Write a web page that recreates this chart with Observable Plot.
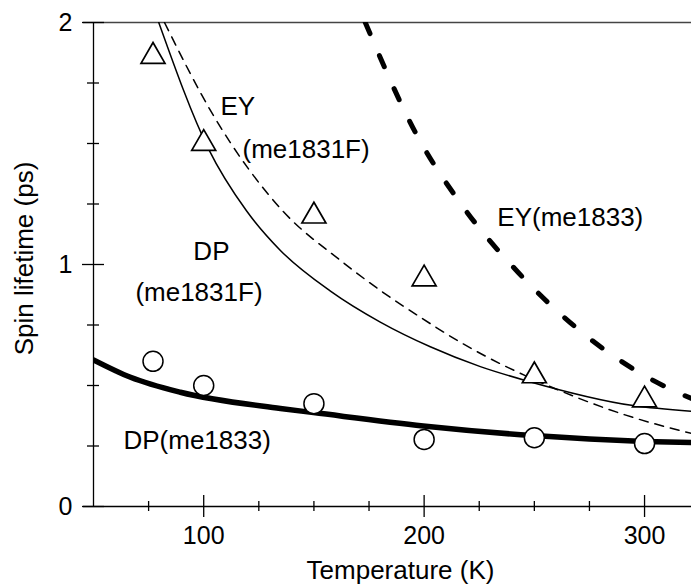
<!DOCTYPE html>
<html><head><meta charset="utf-8">
<script src="https://cdn.jsdelivr.net/npm/d3@7"></script>
<script src="https://cdn.jsdelivr.net/npm/@observablehq/plot@0.6"></script>
<style>body{margin:0;background:#fff}</style>
</head><body><div id="chart"></div>
<script>
// Measured points
const dataT = [77, 100, 150, 200, 250, 300];
const eyMe1831F = [1.86, 1.50, 1.20, 0.94, 0.54, 0.44];   // triangles
const dpMe1833 = [0.60, 0.50, 0.425, 0.277, 0.284, 0.26]; // circles

// Theory curves
const dp1833T = [50, 66.8, 89.4, 134.8, 149.8, 199.6, 249.5, 299.8, 321.3];
const dp1833V = [0.606, 0.534, 0.472, 0.405, 0.388, 0.333, 0.293, 0.269, 0.264];
const dp1831T = [79.6, 102.1, 119.4, 134.8, 157.5, 180.1, 202.8, 225.5, 245.9, 294.8, 321.3];
const dp1831V = [2.0, 1.479, 1.222, 1.058, 0.89, 0.762, 0.66, 0.578, 0.521, 0.417, 0.393];
const ey1831T = [82.2, 104.4, 136.1, 162.0, 180.1, 198.3, 216.4, 234.5, 245.9, 294.8, 321.3];
const ey1831V = [2.0, 1.616, 1.219, 1.017, 0.893, 0.782, 0.679, 0.590, 0.541, 0.368, 0.302];
const ey1833T = [173.3, 196.8, 217.2, 242.7, 272.2, 303.9, 321.3];
const ey1833V = [2.0, 1.533, 1.244, 0.967, 0.715, 0.521, 0.446];

// Labels
const labelText = ["EY", "(me1831F)", "DP", "(me1831F)", "EY(me1833)", "DP(me1833)"];
const labelT = [107.6, 117.6, 95.3, 69.0, 233.2, 63.6];
const labelV = [1.653, 1.475, 1.054, 0.884, 1.194, 0.273];

// Ticks
const xMajor = [100, 200, 300];
const xMinor = [75, 125, 150, 175, 225, 250, 275];
const yMajor = [0, 1, 2];
const yMinor = [0.25, 0.5, 0.75, 1.25, 1.5, 1.75];

const rows = (T, V) => T.map((t, i) => ({t, v: V[i]}));
const font = "'Liberation Sans', Arial, Helvetica, sans-serif";

const chart = Plot.plot({
  width: 691, height: 585,
  marginLeft: 93, marginRight: 0, marginTop: 22, marginBottom: 79,
  style: {fontFamily: font, background: "#fff", color: "#000"},
  x: {domain: [50, 321.3]},
  y: {domain: [0, 2]},
  marks: [
    Plot.ruleY([2], {insetLeft: -10, stroke: "#444", strokeWidth: 1.5}),
    Plot.ruleY([0], {insetLeft: -10, stroke: "#000", strokeWidth: 1.3}),
    Plot.ruleX([50], {stroke: "#000", strokeWidth: 1.3}),
    Plot.ruleY(yMajor, {y: d => d, x1: 50, x2: 50, insetLeft: -11, insetRight: -11, stroke: "#000", strokeWidth: 1.3}),
    Plot.ruleY(yMinor, {y: d => d, x1: 50, x2: 50, insetLeft: -6, insetRight: -6, stroke: "#000", strokeWidth: 1.3}),
    Plot.ruleX(xMajor, {x: d => d, y1: 0, y2: 0, insetTop: -11, insetBottom: -11, stroke: "#000", strokeWidth: 1.3}),
    Plot.ruleX(xMinor, {x: d => d, y1: 0, y2: 0, insetTop: -5, insetBottom: -5, stroke: "#000", strokeWidth: 1.3}),
    Plot.axisX({ticks: xMajor, tickSize: 0, tickPadding: 20, fontSize: 25, label: null, tickFormat: d => String(d)}),
    Plot.axisY({ticks: yMajor, tickSize: 0, tickPadding: 21, fontSize: 25, label: null, tickFormat: d => String(d)}),

    Plot.line(rows(dp1833T, dp1833V), {x: "t", y: "v", curve: "monotone-x", stroke: "#000", strokeWidth: 5.5, clip: true}),
    Plot.line(rows(dp1831T, dp1831V), {x: "t", y: "v", curve: "monotone-x", stroke: "#000", strokeWidth: 1.5, clip: true}),
    Plot.line(rows(ey1831T, ey1831V), {x: "t", y: "v", curve: "monotone-x", stroke: "#000", strokeWidth: 1.5, strokeDasharray: "9,7", clip: true}),
    Plot.line(rows(ey1833T, ey1833V), {x: "t", y: "v", curve: "monotone-x", stroke: "#000", strokeWidth: 5, strokeDasharray: "12,24", strokeLinecap: "round", clip: true}),

    Plot.dot(rows(dataT, dpMe1833), {x: "t", y: "v", r: 10, fill: "white", stroke: "#000", strokeWidth: 1.5}),
    Plot.dot(rows(dataT, eyMe1831F), {x: "t", y: "v", symbol: "triangle", r: 8.9, fill: "white", stroke: "#000", strokeWidth: 1.7}),

    Plot.text(labelText.map((s, i) => ({s, t: labelT[i], v: labelV[i]})), {x: "t", y: "v", text: "s", textAnchor: "start", lineAnchor: "middle", fontSize: 26, fill: "#000"}),
    Plot.text(["Temperature (K)"], {frameAnchor: "bottom", textAnchor: "middle", lineAnchor: "middle", dx: 8, dy: 64, fontSize: 26, fill: "#000"}),
    Plot.text(["Spin lifetime (ps)"], {frameAnchor: "left", textAnchor: "middle", lineAnchor: "middle", rotate: -90, dx: -69, dy: -6, fontSize: 26, fill: "#000"})
  ]
});
document.getElementById("chart").appendChild(chart);
</script>
</body></html>
